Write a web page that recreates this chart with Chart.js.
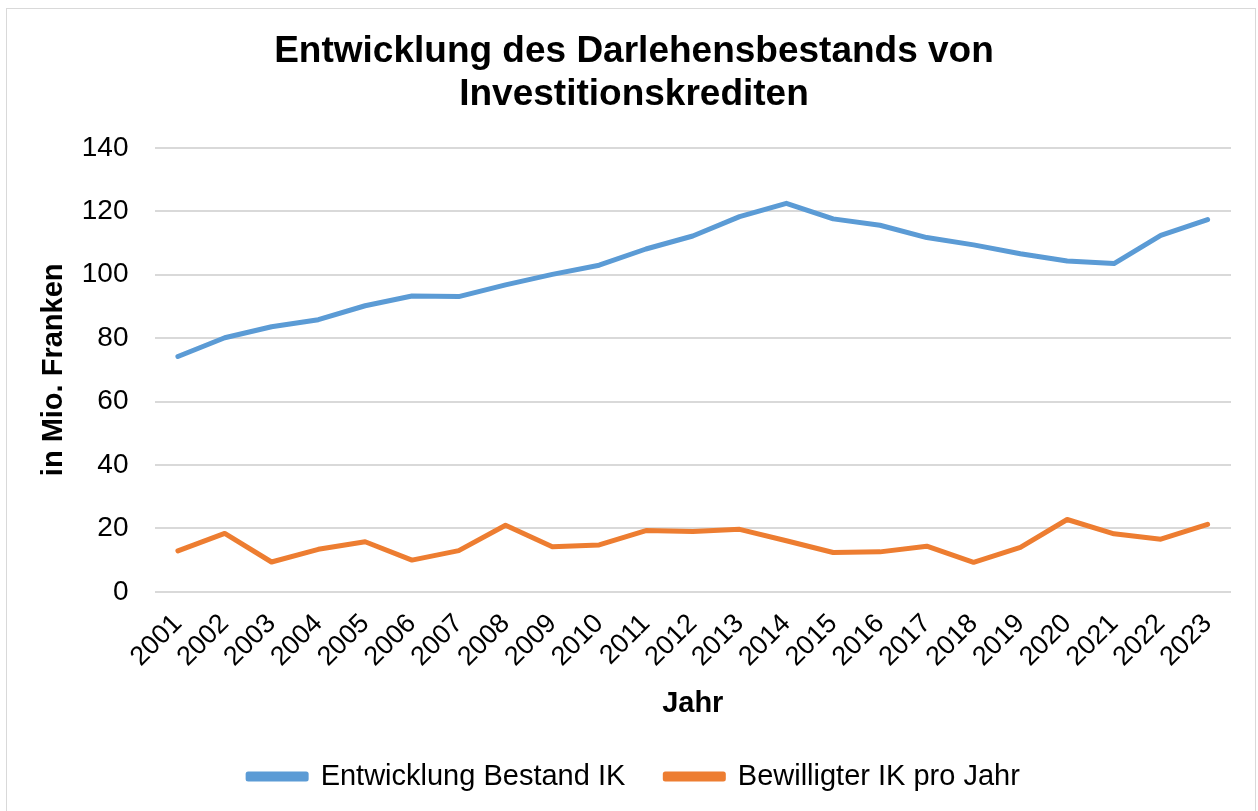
<!DOCTYPE html>
<html>
<head>
<meta charset="utf-8">
<script src="https://cdn.jsdelivr.net/npm/chart.js@4"></script>
<style>
  body { margin: 0; background: #fff; }
  #frame { position: absolute; left: 6px; top: 8px; width: 1250px; height: 810px; border: 1px solid #d9d9d9; box-sizing: border-box; }
  #wrap { position: absolute; left: 0; top: 0; width: 1258px; height: 811px; }
</style>
</head>
<body>
<div id="frame"></div>
<div id="wrap"><canvas id="chart"></canvas></div>
<script>
// data
var years = ["2001", "2002", "2003", "2004", "2005", "2006", "2007", "2008", "2009", "2010", "2011", "2012",
             "2013", "2014", "2015", "2016", "2017", "2018", "2019", "2020", "2021", "2022", "2023"];
var bestand = [74.2, 80.1, 83.6, 85.8, 90.2, 93.3, 93.1, 96.8, 100.1, 103.0, 108.1, 112.2,
               118.3, 122.5, 117.6, 115.6, 111.7, 109.4, 106.6, 104.3, 103.5, 112.4, 117.4];
var bewilligt = [12.9, 18.4, 9.4, 13.4, 15.8, 10.0, 13.0, 21.0, 14.2, 14.8, 19.3, 19.0,
                 19.7, 16.1, 12.4, 12.6, 14.4, 9.3, 14.0, 22.8, 18.3, 16.6, 21.3];
var yTicks = [0, 20, 40, 60, 80, 100, 120, 140];

var fontFamily = "'Liberation Sans', Arial, sans-serif";

var ctx = document.getElementById("chart");
var chart = new Chart(ctx, {
  type: "line",
  data: {
    labels: years,
    datasets: [{
      label: "Entwicklung Bestand IK",
      data: bestand,
      borderColor: "#5B9BD5",
      backgroundColor: "#5B9BD5",
      borderWidth: 5,
      borderCapStyle: "round",
      borderJoinStyle: "round",
      pointRadius: 0,
      tension: 0
    }, {
      label: "Bewilligter IK pro Jahr",
      data: bewilligt,
      borderColor: "#ED7D31",
      backgroundColor: "#ED7D31",
      borderWidth: 5,
      borderCapStyle: "round",
      borderJoinStyle: "round",
      pointRadius: 0,
      tension: 0
    }]
  },
  options: {
    responsive: true,
    maintainAspectRatio: false,
    animation: false,
    layout: { padding: { top: 22, left: 37, right: 27, bottom: 10 } },
    plugins: {
      title: {
        display: true,
        text: ["Entwicklung des Darlehensbestands von", "Investitionskrediten"],
        color: "#000",
        font: { family: fontFamily, size: 37, weight: "bold", lineHeight: 1.16 },
        padding: { top: 8, bottom: 32 }
      },
      legend: {
        position: "bottom",
        labels: {
          color: "#000",
          font: { family: fontFamily, size: 29 },
          boxWidth: 58,
          boxHeight: 5,
          padding: 40
        }
      },
      tooltip: { enabled: false }
    },
    scales: {
      x: {
        offset: true,
        grid: { display: false },
        border: { display: false },
        afterFit: function (axis) {
          axis.paddingLeft = 0;
          axis.paddingRight = 0;
        },
        ticks: {
          color: "#000",
          font: { family: fontFamily, size: 27 },
          minRotation: 45,
          maxRotation: 45,
          autoSkip: false,
          padding: 8
        },
        title: {
          display: true,
          text: "Jahr",
          color: "#000",
          font: { family: fontFamily, size: 29, weight: "bold" },
          padding: { top: 5, bottom: 1 }
        }
      },
      y: {
        min: 0,
        max: 140,
        afterBuildTicks: function (axis) {
          axis.ticks = yTicks.map(function (v) { return { value: v }; });
        },
        // the tick padding gets counted twice in the axis width, take one back
        afterFit: function (axis) {
          axis.width -= 26;
        },
        grid: { color: "#d9d9d9", lineWidth: 2, drawTicks: false },
        border: { display: false },
        ticks: {
          color: "#000",
          font: { family: fontFamily, size: 28 },
          padding: 26
        },
        title: {
          display: true,
          text: "in Mio. Franken",
          color: "#000",
          font: { family: fontFamily, size: 29, weight: "bold" },
          padding: { top: 0, bottom: 10 }
        }
      }
    }
  }
});
</script>
</body>
</html>
